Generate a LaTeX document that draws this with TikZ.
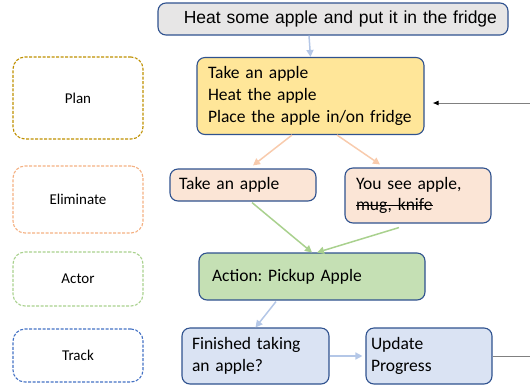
\documentclass[tikz,border=0pt]{standalone}
\usepackage{fontspec}
\setmainfont{Carlito}
\newfontfamily\arialfont{Liberation Sans}
\newsavebox\strikebox
\newcommand\mystrike[1]{\sbox\strikebox{#1}\makebox[0pt][l]{\rule[0.25em]{\wd\strikebox}{0.075em}}\usebox\strikebox}
\usetikzlibrary{arrows.meta,calc}
\definecolor{bordblue}{HTML}{2F528F}
\definecolor{topfill}{HTML}{E7E6E6}
\definecolor{planfill}{HTML}{FFE699}
\definecolor{elimfill}{HTML}{FBE5D6}
\definecolor{actfill}{HTML}{C5E0B4}
\definecolor{trackfill}{HTML}{DAE3F3}
\definecolor{arblue}{HTML}{B4C7E7}
\definecolor{arorange}{HTML}{F8CBAD}
\definecolor{argreen}{HTML}{A9D18E}
\definecolor{dgold}{HTML}{BF9000}
\definecolor{dorange}{HTML}{F4B183}
\definecolor{dgreen}{HTML}{A9D18E}
\definecolor{dblue}{HTML}{4472C4}
\tikzset{
  box/.style={draw=bordblue, line width=1.1pt, rounded corners=8pt, inner xsep=10pt, inner ysep=0pt,
    font=\fontsize{17.5}{21.5}\selectfont, align=left, anchor=center},
  lane/.style={draw=#1, line width=1.1pt, dash pattern=on 3pt off 1.5pt, rounded corners=12pt,
    minimum width=130pt, font=\fontsize{15}{18}\selectfont},
  conn/.style={draw=#1, line width=1.5pt, -{Triangle[length=7pt,width=7pt]}},
}
\begin{document}
\frenchspacing
\begin{tikzpicture}[x=1pt,y=-1pt]
\useasboundingbox (0,0) rectangle (530,384);
% lanes
\node[lane=dgold, minimum height=82pt] (lplan) at (78,98) {Plan};
\node[lane=dorange, minimum height=67pt] (lelim) at (78,199.5) {Eliminate};
\node[lane=dgreen, minimum height=54pt] (lact) at (78,279) {Actor};
\node[lane=dblue, minimum height=53pt] (ltrack) at (78,355.5) {Track};
% boxes
\node[box, fill=topfill, minimum width=350pt, minimum height=32pt, inner xsep=11pt, align=right, font=\arialfont\fontsize{17.5}{21}\selectfont, text width=328pt] (top) at (333,19) {Heat some apple and put it in the fridge};
\node[box, fill=planfill, minimum width=227pt, minimum height=77pt, inner xsep=11pt, text width=205pt, font=\fontsize{17.5}{22}\selectfont] (plan) at (310.5,96) {Take an apple\\Heat the apple\\Place the apple in/on fridge};
\node[box, fill=elimfill, minimum width=146pt, minimum height=32pt, inner xsep=9pt, text width=128pt] (e1) at (243,185) {Take an apple};
\node[box, fill=elimfill, minimum width=146pt, minimum height=55pt, inner xsep=11pt, text width=124pt] (e2) at (418,195.5) {You see apple,\\\mystrike{mug, knife}};
\node[box, fill=actfill, minimum width=226pt, minimum height=47pt, inner xsep=13pt, text width=200pt] (act) at (312,276.5) {Action: Pickup Apple};
\node[box, fill=trackfill, minimum width=147pt, minimum height=56pt, inner xsep=10pt, text width=127pt] (fin) at (255.5,356) {Finished taking\\an apple?};
\node[box, fill=trackfill, minimum width=126pt, minimum height=56pt, inner xsep=5pt, text width=116pt] (upd) at (429,356) {Update\\Progress};
% connectors
\draw[conn=arblue] ($(top.south)+(-24,0)$) -- (plan.north);
\draw[conn=arorange] ($(plan.south)+(-18.5,0)$) -- ($(e1.north)+(10,-3)$);
\draw[conn=arorange] ($(plan.south)+(26.5,0)$) -- ($(e2.north)+(-38,-3)$);
\draw[conn=argreen] ($(e1.south)+(9,1)$) -- ($(act.north)+(0,0)$);
\draw[conn=argreen] ($(e2.south)+(-19,4)$) -- ($(act.north)+(5,0)$);
\draw[conn=arblue] ($(act.south)+(-36,1)$) -- (fin.north);
\draw[conn=arblue] (fin.east) -- ($(upd.west)+(-3,0)$);
\coordinate (rin) at (530,103);
\coordinate (rout) at (530,356);
\draw[gray, line width=0.9pt, -{Latex[length=6pt,width=5pt,black]}] (rin) -- ($(rin -| plan.east)+(8,0)$);
\draw[gray, line width=0.9pt] (upd.east) -- (rout);
\end{tikzpicture}
\end{document}
